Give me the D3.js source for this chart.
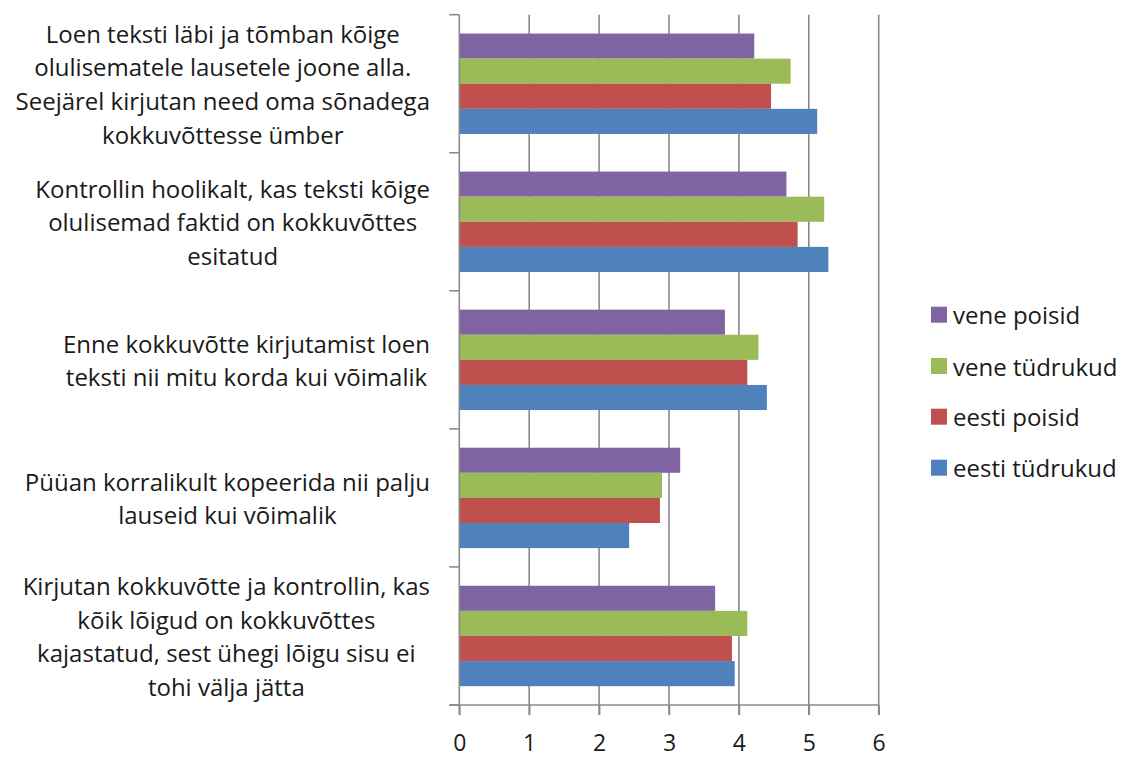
<!DOCTYPE html>
<html>
<head>
<meta charset="utf-8">
<script src="https://cdn.jsdelivr.net/npm/d3@7/dist/d3.min.js"></script>
<style>
  html, body { margin: 0; padding: 0; background: #fff; }
  svg { display: block; }
  text { font-family: "Open Sans", Lato, sans-serif; fill: #1a1a1a; }
</style>
</head>
<body>
<svg id="chart" width="1123" height="760"></svg>
<script>
// Survey statements (top to bottom), each split into its display lines
const categories = [
  "Loen teksti läbi ja tõmban kõige olulisematele lausetele joone alla. Seejärel kirjutan need oma sõnadega kokkuvõttesse ümber",
  "Kontrollin hoolikalt, kas teksti kõige olulisemad faktid on kokkuvõttes esitatud",
  "Enne kokkuvõtte kirjutamist loen teksti nii mitu korda kui võimalik",
  "Püüan korralikult kopeerida nii palju lauseid kui võimalik",
  "Kirjutan kokkuvõtte ja kontrollin, kas kõik lõigud on kokkuvõttes kajastatud, sest ühegi lõigu sisu ei tohi välja jätta"
];
const categoryLines = [
  ["Loen teksti läbi ja tõmban kõige", "olulisematele lausetele joone alla.", "Seejärel kirjutan need oma sõnadega", "kokkuvõttesse ümber"],
  ["Kontrollin hoolikalt, kas teksti kõige", "olulisemad faktid on kokkuvõttes", "esitatud"],
  ["Enne kokkuvõtte kirjutamist loen", "teksti nii mitu korda kui võimalik"],
  ["Püüan korralikult kopeerida nii palju", "lauseid kui võimalik"],
  ["Kirjutan kokkuvõtte ja kontrollin, kas", "kõik lõigud on kokkuvõttes", "kajastatud, sest ühegi lõigu sisu ei", "tohi välja jätta"]
];

// Series, listed top to bottom inside each group (same order as legend)
const seriesNames = ["vene poisid", "vene tüdrukud", "eesti poisid", "eesti tüdrukud"];
const seriesColors = ["#8064A2", "#9BBB59", "#C0504D", "#4F81BD"];

// Mean scores per statement, one array per series
const venePoisid    = [4.22, 4.68, 3.80, 3.16, 3.66];
const veneTudrukud  = [4.74, 5.22, 4.28, 2.90, 4.12];
const eestiPoisid   = [4.46, 4.84, 4.12, 2.87, 3.90];
const eestiTudrukud = [5.12, 5.28, 4.40, 2.43, 3.94];
const seriesValues = [venePoisid, veneTudrukud, eestiPoisid, eestiTudrukud];

const xTicks = [0, 1, 2, 3, 4, 5, 6];

const svg = d3.select("#chart");
const plot = { left: 459.3, right: 878.7, top: 14.7, bottom: 705 };
const gridColor = "#8a8a8a";
const fontSize = 24;

const x = d3.scaleLinear().domain([0, 6]).range([plot.left, plot.right]);
const y = d3.scaleBand().domain(d3.range(categories.length)).range([plot.top, plot.bottom]).padding(0);
const inner = d3.scaleBand().domain(seriesNames).range([0, y.bandwidth()])
  .paddingInner(0).paddingOuter(0.75);

// vertical gridlines (extend down through the tick marks)
svg.append("g").selectAll("line").data(xTicks.slice(1)).join("line")
  .attr("x1", d => x(d)).attr("x2", d => x(d))
  .attr("y1", plot.top).attr("y2", plot.bottom + 10)
  .attr("stroke", gridColor).attr("stroke-width", 1.6);

// bars
const groups = svg.append("g").selectAll("g").data(categories).join("g")
  .attr("transform", (d, i) => `translate(0,${y(i)})`);
groups.selectAll("rect")
  .data((d, i) => seriesNames.map((s, k) => ({ s, k, v: seriesValues[k][i] })))
  .join("rect")
  .attr("x", x(0))
  .attr("y", d => inner(d.s))
  .attr("width", d => x(d.v) - x(0))
  .attr("height", inner.bandwidth())
  .attr("fill", d => seriesColors[d.k]);

// value axis (bottom)
const xAxis = d3.axisBottom(x).tickValues(xTicks).tickSize(10).tickPadding(20).tickFormat(d3.format("d"));
const gx = svg.append("g").attr("transform", `translate(0,${plot.bottom})`).call(xAxis);
gx.select(".domain").attr("d", `M${plot.left - 10},0H${plot.right}`)
  .attr("stroke", gridColor).attr("stroke-width", 1.6);
gx.selectAll(".tick line").attr("stroke", gridColor).attr("stroke-width", 1.6);
gx.selectAll(".tick text").attr("font-size", 23).attr("font-family", "'Open Sans', sans-serif").attr("fill", "#1a1a1a");

// category axis (left): boundary ticks between groups
const bounds = d3.range(categories.length + 1).map(i => plot.top + i * y.step());
svg.append("line")
  .attr("x1", plot.left).attr("x2", plot.left)
  .attr("y1", plot.top).attr("y2", plot.bottom + 10)
  .attr("stroke", gridColor).attr("stroke-width", 1.6);
svg.append("g").selectAll("line").data(bounds).join("line")
  .attr("x1", plot.left - 10).attr("x2", plot.left)
  .attr("y1", d => d).attr("y2", d => d)
  .attr("stroke", gridColor).attr("stroke-width", 1.6);

// category labels: each block is centered on its own widest line, right edge at 430
const lineH = 33.6;
const labelRight = 430;

categoryLines.forEach((lines, i) => {
  const cy = y(i) + y.bandwidth() / 2;
  const g = svg.append("g");
  const t = g.selectAll("text").data(lines).join("text")
    .attr("font-size", fontSize)
    .attr("text-anchor", "middle")
    .attr("dominant-baseline", "central")
    .attr("y", (d, j) => cy + (j - (lines.length - 1) / 2) * lineH)
    .text(d => d);
  const maxW = d3.max(t.nodes(), n => n.getComputedTextLength());
  t.attr("x", labelRight - maxW / 2);
});

// legend
const legendY = [314.7, 366, 416.7, 467.7];
const legend = svg.append("g").selectAll("g").data(seriesNames).join("g")
  .attr("transform", (d, i) => `translate(931,${legendY[i]})`);
legend.append("rect").attr("x", 0).attr("y", -8).attr("width", 16).attr("height", 16)
  .attr("fill", (d, i) => seriesColors[i]);
legend.append("text").attr("x", 22).attr("y", 0).attr("dominant-baseline", "central")
  .attr("font-size", fontSize).text(d => d);
</script>
</body>
</html>
